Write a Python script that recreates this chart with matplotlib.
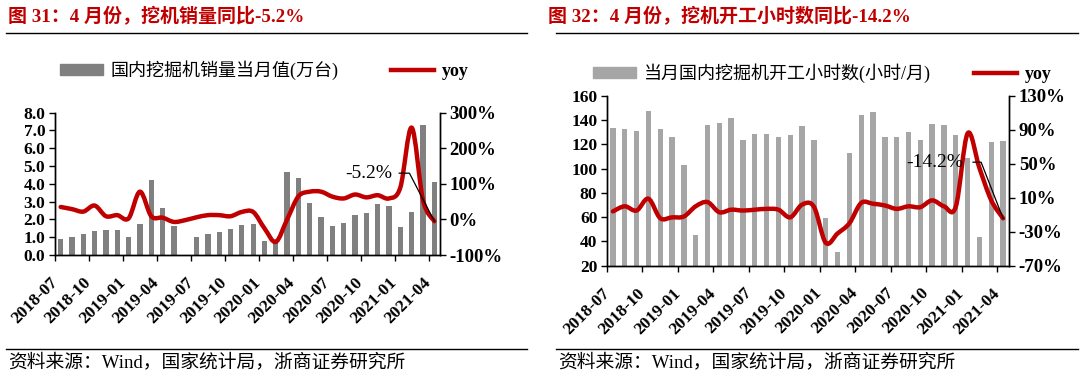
import numpy as np
import matplotlib.pyplot as plt
from matplotlib.path import Path
from matplotlib.patches import PathPatch, Patch
from matplotlib.lines import Line2D

# months 2018-07 .. 2021-04
months = []
for y in range(2018, 2022):
    for m in range(1, 13):
        if (y, m) >= (2018, 7) and (y, m) <= (2021, 4):
            months.append(f"{y}-{m:02d}")
tick_labels = months[::3]

# 国内挖掘机销量当月值 (万台), 2019-06 missing
sales = [0.90, 1.01, 1.18, 1.33, 1.40, 1.40, 1.01, 1.72, 4.19, 2.64, 1.65, np.nan,
         1.01, 1.16, 1.31, 1.48, 1.70, 1.72, 0.77, 0.70, 4.66, 4.34, 2.94, 2.15,
         1.63, 1.78, 2.25, 2.38, 2.87, 2.73, 1.59, 2.43, 7.32, 4.12]
sales_yoy = [35, 29, 22, 39, 9, 12, 3, 78, 9, 5, -7, -2,
             6, 12, 12, 9, 21, 21, -25, -63, 0, 65, 78, 78,
             64, 59, 70, 62, 68, 59, 90, 258, 54, -5.2]

# 当月国内挖掘机开工小时数 (小时/月)
hours = [134, 133, 131, 148, 133, 126, 103, 45, 136, 138, 142, 124,
         129, 129, 126, 128, 135, 124, 59, 31, 113, 144, 147, 126,
         126, 130, 124, 137, 136, 128, 109, 44, 122, 123]
hours_yoy = [-6, 0, -5, 9, -14, -13, -12, 0, 5, -7, -4, -5,
             -4, -3, -4, -13, 2, -0.5, -43, -32, -20, 4, 3, 1,
             -3, 0, -1, 7, 0, -0.5, 86, 45, 7, -14.2]

RED = '#C00000'
TITLE_RED = '#C00000'
SERIF = ['Liberation Serif', 'Noto Sans CJK SC']
W, H = 1080, 382


def box(x0, y0, x1, y1):
    return [x0 / W, 1 - y1 / H, (x1 - x0) / W, (y1 - y0) / H]


def smooth_path(x, y):
    # Excel style smoothed line (cubic bezier through every point)
    x = np.asarray(x, float)
    y = np.asarray(y, float)
    n = len(x)
    verts = [(x[0], y[0])]
    codes = [Path.MOVETO]
    for i in range(n - 1):
        xa, ya = (x[i - 1], y[i - 1]) if i > 0 else (x[i], y[i])
        xb, yb = (x[i + 2], y[i + 2]) if i + 2 < n else (x[i + 1], y[i + 1])
        c1 = (x[i] + (x[i + 1] - xa) / 6, y[i] + (y[i + 1] - ya) / 6)
        c2 = (x[i + 1] - (xb - x[i]) / 6, y[i + 1] - (yb - y[i]) / 6)
        verts += [c1, c2, (x[i + 1], y[i + 1])]
        codes += [Path.CURVE4] * 3
    return Path(verts, codes)


def style_ticks(ax, size):
    for lab in ax.get_yticklabels():
        lab.set_fontfamily('Liberation Serif')
        lab.set_fontweight('bold')
        lab.set_fontsize(size)
    ax.tick_params(axis='y', direction='out', length=4, width=1, pad=3)
    for s in ax.spines.values():
        s.set_linewidth(1)


def panel(rect, bars, yoy, bar_color, bar_w, ylim, yticks, yfmt, ylim2, yticks2,
          label_txt, label_pos, leader):
    ax = fig.add_axes(rect)
    x = np.arange(len(months))
    ax.bar(x, bars, width=bar_w, color=bar_color, zorder=2)
    ax.set_xlim(-0.5, len(months) - 0.5)
    ax.set_ylim(*ylim)
    ax.set_yticks(yticks)
    ax.set_yticklabels([yfmt.format(v) for v in yticks])
    ax.spines['top'].set_visible(False)
    ax.set_xticks(np.arange(-0.5, len(months) - 1, 3))
    ax.set_xticklabels(tick_labels, rotation=45, ha='right', va='center',
                       rotation_mode='anchor', fontfamily='Liberation Serif',
                       fontweight='bold', fontsize=12.5)
    ax.tick_params(axis='x', direction='out', length=4, width=1, pad=14)
    style_ticks(ax, 12.5)

    ax2 = ax.twinx()
    ax2.set_xlim(-0.5, len(months) - 0.5)
    ax2.set_ylim(*ylim2)
    ax2.set_yticks(yticks2)
    ax2.set_yticklabels([f"{v:.0f}%" for v in yticks2])
    ax2.spines['top'].set_visible(False)
    style_ticks(ax2, 13.5)
    ax2.add_patch(PathPatch(smooth_path(x, yoy), fc='none', ec=RED, lw=3.2,
                            capstyle='round', joinstyle='round', zorder=3))
    # data label with leader line
    lx, ly = label_pos
    ax2.text(lx, ly, label_txt, ha='right', va='center', fontfamily='Liberation Serif',
             fontsize=14, color='black', zorder=4)
    ax2.plot([leader[0], leader[1], x[-1]], [ly, ly, yoy[-1]], color='black', lw=0.9, zorder=4)
    return ax, ax2


fig = plt.figure(figsize=(W / 100, H / 100), dpi=100)

# left panel
panel(box(55, 112.7, 440, 255), sales, sales_yoy, '#808080', 0.47,
      (0, 8), np.arange(0, 8.1, 1), '{:.1f}', (-100, 300), [-100, 0, 100, 200, 300],
      '-5.2%', (29.3, 130), (29.9, 30.8))

# right panel
panel(box(607, 96, 1009, 265.7), hours, hours_yoy, '#A6A6A6', 0.45,
      (20, 160), np.arange(20, 161, 20), '{:.0f}', (-70, 130), [-70, -30, 10, 50, 90, 130],
      '-14.2%', (29.6, 52), (30.46, 31.14))

# titles, rules, legends, sources
titles = [(8, '图 31：4 月份，挖机销量同比-5.2%'), (548, '图 32：4 月份，挖机开工小时数同比-14.2%')]
for x0, t in titles:
    fig.text(x0 / W, 1 - 17 / H, t, color=TITLE_RED, fontsize=13.7, fontweight='bold',
             family=SERIF, ha='left', va='center')
for x0, x1 in [(6, 527), (556, 1078)]:
    fig.add_artist(Line2D([x0 / W, x1 / W], [1 - 33 / H, 1 - 33 / H], color='black', lw=1))
    fig.add_artist(Line2D([x0 / W, x1 / W], [1 - 349 / H, 1 - 349 / H], color='black', lw=1))
    fig.text((x0 + 2) / W, 1 - 362 / H, '资料来源：Wind，国家统计局，浙商证券研究所',
             fontsize=13.5, family=SERIF, ha='left', va='center')

legends = [(60, 70, '国内挖掘机销量当月值(万台)', '#808080', 2.9),
           (593, 73, '当月国内挖掘机开工小时数(小时/月)', '#A6A6A6', 2.4)]
for x0, y0, lab, col, cs in legends:
    handles = [Patch(color=col), Line2D([], [], color=RED, lw=3.2)]
    leg = fig.legend(handles, [lab, 'yoy'], loc='center left',
                     bbox_to_anchor=(x0 / W, 1 - y0 / H), ncol=2, frameon=False,
                     borderpad=0, borderaxespad=0, handlelength=2.4, handleheight=0.5,
                     handletextpad=0.4, columnspacing=cs,
                     prop={'family': SERIF, 'size': 13})
    leg.get_texts()[1].set_fontweight('bold')

fig.savefig('out.png', dpi=100)
